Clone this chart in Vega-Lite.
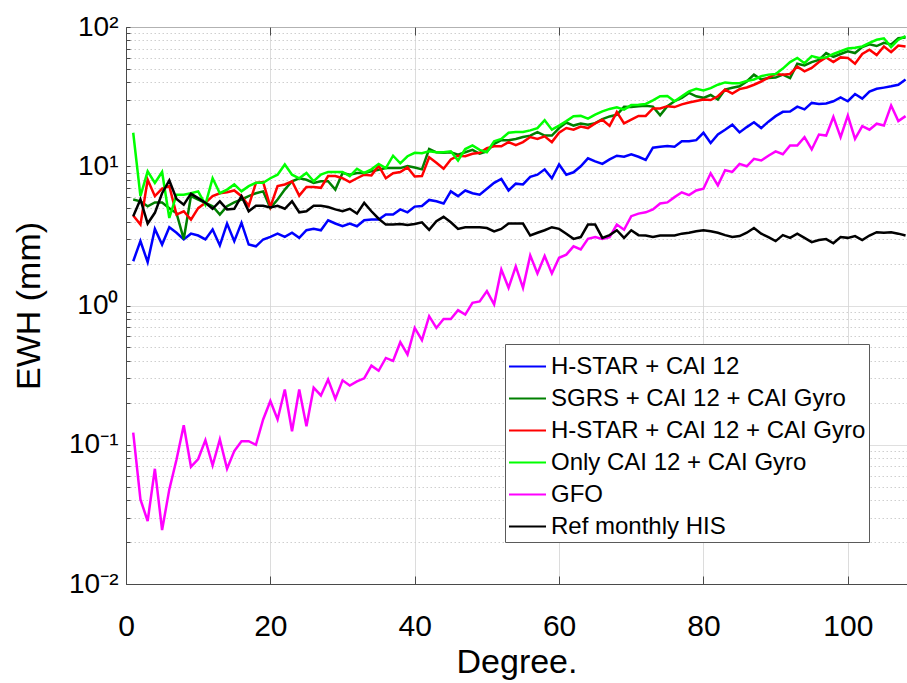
{
"$schema": "https://vega.github.io/schema/vega-lite/v6.json",
"autosize": {"type": "none"},
"padding": {"left": 126, "top": 27, "right": 0, "bottom": 99},
"width": 781,
"height": 557,
"background": "white",
"config": {"font": "Liberation Sans", "view": {"stroke": "#4a4a4a", "strokeWidth": 1}},
"datasets": {
"blue": [{"d":1,"v":2.08},{"d":2,"v":2.9},{"d":3,"v":2.05},{"d":4,"v":3.55},{"d":5,"v":2.74},{"d":6,"v":3.65},{"d":7,"v":3.33},{"d":8,"v":2.98},{"d":9,"v":3.28},{"d":10,"v":3.18},{"d":11,"v":2.98},{"d":12,"v":3.51},{"d":13,"v":2.7},{"d":14,"v":3.88},{"d":15,"v":2.9},{"d":16,"v":3.92},{"d":17,"v":2.74},{"d":18,"v":2.66},{"d":19,"v":2.98},{"d":20,"v":3.11},{"d":21,"v":3.28},{"d":22,"v":3.11},{"d":23,"v":3.33},{"d":24,"v":3.06},{"d":25,"v":3.47},{"d":26,"v":3.55},{"d":27,"v":3.47},{"d":28,"v":4.09},{"d":29,"v":3.88},{"d":30,"v":3.71},{"d":31,"v":3.88},{"d":32,"v":3.71},{"d":33,"v":4.09},{"d":34,"v":4.14},{"d":35,"v":4.14},{"d":36,"v":4.5},{"d":37,"v":4.5},{"d":38,"v":4.9},{"d":39,"v":4.67},{"d":40,"v":5.13},{"d":41,"v":5.18},{"d":42,"v":5.73},{"d":43,"v":5.6},{"d":44,"v":5.4},{"d":45,"v":6.6},{"d":46,"v":6.1},{"d":47,"v":6.7},{"d":48,"v":6.4},{"d":49,"v":6.25},{"d":50,"v":6.9},{"d":51,"v":7.6},{"d":52,"v":8.1},{"d":53,"v":6.7},{"d":54,"v":7.5},{"d":55,"v":7.4},{"d":56,"v":8.4},{"d":57,"v":8.7},{"d":58,"v":9.5},{"d":59,"v":8.2},{"d":60,"v":10.3},{"d":61,"v":8.7},{"d":62,"v":9.05},{"d":63,"v":10.0},{"d":64,"v":11.4},{"d":65,"v":10.85},{"d":66,"v":10.4},{"d":67,"v":11.2},{"d":68,"v":11.9},{"d":69,"v":11.7},{"d":70,"v":12.2},{"d":71,"v":11.7},{"d":72,"v":11.1},{"d":73,"v":13.6},{"d":74,"v":13.8},{"d":75,"v":14.0},{"d":76,"v":13.8},{"d":77,"v":15.1},{"d":78,"v":15.1},{"d":79,"v":15.4},{"d":80,"v":17.4},{"d":81,"v":14.7},{"d":82,"v":16.9},{"d":83,"v":18.3},{"d":84,"v":19.9},{"d":85,"v":17.5},{"d":86,"v":19.1},{"d":87,"v":20.7},{"d":88,"v":18.8},{"d":89,"v":20.9},{"d":90,"v":22.9},{"d":91,"v":24.6},{"d":92,"v":24.7},{"d":93,"v":26.8},{"d":94,"v":25.6},{"d":95,"v":28.5},{"d":96,"v":28.0},{"d":97,"v":28.2},{"d":98,"v":29.3},{"d":99,"v":31.2},{"d":100,"v":29.3},{"d":101,"v":33},{"d":102,"v":30.6},{"d":103,"v":34.4},{"d":104,"v":36},{"d":105,"v":36.7},{"d":106,"v":37.5},{"d":107,"v":38.5},{"d":108,"v":42}],
"sgrs": [{"d":1,"v":5.77},{"d":2,"v":5.6},{"d":3,"v":5.16},{"d":4,"v":5.5},{"d":5,"v":5.5},{"d":6,"v":5.0},{"d":7,"v":4.6},{"d":8,"v":3.0},{"d":9,"v":6.1},{"d":10,"v":5.77},{"d":11,"v":5.46},{"d":12,"v":5.16},{"d":13,"v":4.5},{"d":14,"v":5.16},{"d":15,"v":5.5},{"d":16,"v":5.77},{"d":17,"v":6.1},{"d":18,"v":6.4},{"d":19,"v":6.6},{"d":20,"v":5.0},{"d":21,"v":5.77},{"d":22,"v":6.8},{"d":23,"v":7.8},{"d":24,"v":8.2},{"d":25,"v":8.0},{"d":26,"v":7.6},{"d":27,"v":7.8},{"d":28,"v":7.8},{"d":29,"v":6.8},{"d":30,"v":8.95},{"d":31,"v":8.7},{"d":32,"v":8.95},{"d":33,"v":8.95},{"d":34,"v":9.2},{"d":35,"v":9.45},{"d":36,"v":9.7},{"d":37,"v":9.7},{"d":38,"v":9.7},{"d":39,"v":10.05},{"d":40,"v":9.8},{"d":41,"v":9.5},{"d":42,"v":13.3},{"d":43,"v":12.6},{"d":44,"v":12.5},{"d":45,"v":12.6},{"d":46,"v":12.1},{"d":47,"v":12.6},{"d":48,"v":13.1},{"d":49,"v":12.3},{"d":50,"v":12.8},{"d":51,"v":14.5},{"d":52,"v":15.4},{"d":53,"v":15.4},{"d":54,"v":15.7},{"d":55,"v":16.2},{"d":56,"v":16.6},{"d":57,"v":17.6},{"d":58,"v":16.6},{"d":59,"v":16.6},{"d":60,"v":18.8},{"d":61,"v":20.6},{"d":62,"v":19.6},{"d":63,"v":20.3},{"d":64,"v":19.9},{"d":65,"v":20.4},{"d":66,"v":21.8},{"d":67,"v":22.8},{"d":68,"v":23.4},{"d":69,"v":26.7},{"d":70,"v":26.6},{"d":71,"v":27},{"d":72,"v":27.2},{"d":73,"v":26.8},{"d":74,"v":23.2},{"d":75,"v":27},{"d":76,"v":29.3},{"d":77,"v":31},{"d":78,"v":33.6},{"d":79,"v":31.8},{"d":80,"v":31},{"d":81,"v":32.5},{"d":82,"v":30.1},{"d":83,"v":35.5},{"d":84,"v":36.6},{"d":85,"v":37.5},{"d":86,"v":40.6},{"d":87,"v":45.5},{"d":88,"v":42},{"d":89,"v":43},{"d":90,"v":43.3},{"d":91,"v":45.5},{"d":92,"v":43},{"d":93,"v":54.5},{"d":94,"v":53},{"d":95,"v":56},{"d":96,"v":58},{"d":97,"v":65},{"d":98,"v":61},{"d":99,"v":64},{"d":100,"v":67},{"d":101,"v":65},{"d":102,"v":71.8},{"d":103,"v":75},{"d":104,"v":73},{"d":105,"v":77},{"d":106,"v":75},{"d":107,"v":83},{"d":108,"v":84}],
"red": [{"d":1,"v":4.43},{"d":2,"v":3.81},{"d":3,"v":8.0},{"d":4,"v":6.1},{"d":5,"v":6.9},{"d":6,"v":7.2},{"d":7,"v":4.5},{"d":8,"v":4.75},{"d":9,"v":4.14},{"d":10,"v":5.0},{"d":11,"v":5.46},{"d":12,"v":6.1},{"d":13,"v":6.4},{"d":14,"v":6.5},{"d":15,"v":6.7},{"d":16,"v":6.1},{"d":17,"v":5.2},{"d":18,"v":7.6},{"d":19,"v":7.7},{"d":20,"v":5.1},{"d":21,"v":7.2},{"d":22,"v":7.4},{"d":23,"v":7.8},{"d":24,"v":6.15},{"d":25,"v":7.1},{"d":26,"v":7.1},{"d":27,"v":7.0},{"d":28,"v":8.5},{"d":29,"v":8.5},{"d":30,"v":8.2},{"d":31,"v":7.7},{"d":32,"v":8.2},{"d":33,"v":8.7},{"d":34,"v":8.6},{"d":35,"v":10.1},{"d":36,"v":8.2},{"d":37,"v":8.9},{"d":38,"v":9.1},{"d":39,"v":9.8},{"d":40,"v":8.45},{"d":41,"v":8.5},{"d":42,"v":11.6},{"d":43,"v":10.6},{"d":44,"v":9.6},{"d":45,"v":11.2},{"d":46,"v":11.9},{"d":47,"v":11.8},{"d":48,"v":12.3},{"d":49,"v":12.5},{"d":50,"v":13.5},{"d":51,"v":13.9},{"d":52,"v":13.9},{"d":53,"v":14.9},{"d":54,"v":14.2},{"d":55,"v":14.9},{"d":56,"v":16.2},{"d":57,"v":15.7},{"d":58,"v":16.4},{"d":59,"v":14.9},{"d":60,"v":17.4},{"d":61,"v":18.8},{"d":62,"v":18.3},{"d":63,"v":19.3},{"d":64,"v":18.8},{"d":65,"v":20.3},{"d":66,"v":21.6},{"d":67,"v":19.5},{"d":68,"v":24.5},{"d":69,"v":20.3},{"d":70,"v":21.6},{"d":71,"v":23.0},{"d":72,"v":23.0},{"d":73,"v":26},{"d":74,"v":26},{"d":75,"v":27},{"d":76,"v":26.6},{"d":77,"v":27.8},{"d":78,"v":28.7},{"d":79,"v":29.4},{"d":80,"v":30.1},{"d":81,"v":29.9},{"d":82,"v":31.8},{"d":83,"v":35.5},{"d":84,"v":33.3},{"d":85,"v":35.8},{"d":86,"v":36.8},{"d":87,"v":38.5},{"d":88,"v":40.6},{"d":89,"v":43.3},{"d":90,"v":46},{"d":91,"v":45.5},{"d":92,"v":46},{"d":93,"v":52},{"d":94,"v":48},{"d":95,"v":50.8},{"d":96,"v":56},{"d":97,"v":60.5},{"d":98,"v":56},{"d":99,"v":60.5},{"d":100,"v":60},{"d":101,"v":54.5},{"d":102,"v":64},{"d":103,"v":68.6},{"d":104,"v":63},{"d":105,"v":72.5},{"d":106,"v":66},{"d":107,"v":73.6},{"d":108,"v":72.5}],
"green": [{"d":1,"v":17.4},{"d":2,"v":6.1},{"d":3,"v":9.2},{"d":4,"v":7.6},{"d":5,"v":9.1},{"d":6,"v":4.25},{"d":7,"v":6.25},{"d":8,"v":6.25},{"d":9,"v":6.4},{"d":10,"v":6.6},{"d":11,"v":5.3},{"d":12,"v":8.2},{"d":13,"v":6.4},{"d":14,"v":6.8},{"d":15,"v":7.4},{"d":16,"v":6.6},{"d":17,"v":7.2},{"d":18,"v":7.6},{"d":19,"v":7.6},{"d":20,"v":8.2},{"d":21,"v":8.7},{"d":22,"v":10.3},{"d":23,"v":8.7},{"d":24,"v":8.2},{"d":25,"v":8.95},{"d":26,"v":7.8},{"d":27,"v":8.7},{"d":28,"v":9.1},{"d":29,"v":9.1},{"d":30,"v":9.1},{"d":31,"v":8.5},{"d":32,"v":9.6},{"d":33,"v":8.95},{"d":34,"v":9.5},{"d":35,"v":10.4},{"d":36,"v":9.7},{"d":37,"v":11.9},{"d":38,"v":10.5},{"d":39,"v":11.8},{"d":40,"v":12.5},{"d":41,"v":12.4},{"d":42,"v":12.8},{"d":43,"v":12.6},{"d":44,"v":12.6},{"d":45,"v":12.8},{"d":46,"v":11.0},{"d":47,"v":13.3},{"d":48,"v":14.1},{"d":49,"v":13.1},{"d":50,"v":12.6},{"d":51,"v":15.1},{"d":52,"v":15.7},{"d":53,"v":17.4},{"d":54,"v":17.6},{"d":55,"v":17.6},{"d":56,"v":18.1},{"d":57,"v":18.8},{"d":58,"v":21.4},{"d":59,"v":18.3},{"d":60,"v":19.6},{"d":61,"v":21.1},{"d":62,"v":22.9},{"d":63,"v":23.0},{"d":64,"v":22.0},{"d":65,"v":23.5},{"d":66,"v":24.8},{"d":67,"v":25.8},{"d":68,"v":26.5},{"d":69,"v":25.5},{"d":70,"v":27.5},{"d":71,"v":27.6},{"d":72,"v":28.0},{"d":73,"v":29.7},{"d":74,"v":31.8},{"d":75,"v":32},{"d":76,"v":29.3},{"d":77,"v":31.8},{"d":78,"v":34.5},{"d":79,"v":36},{"d":80,"v":35},{"d":81,"v":36.4},{"d":82,"v":38.5},{"d":83,"v":40},{"d":84,"v":39.5},{"d":85,"v":39.5},{"d":86,"v":41},{"d":87,"v":42},{"d":88,"v":44.3},{"d":89,"v":45.5},{"d":90,"v":46},{"d":91,"v":50.3},{"d":92,"v":56},{"d":93,"v":60},{"d":94,"v":55},{"d":95,"v":61.8},{"d":96,"v":60},{"d":97,"v":60.5},{"d":98,"v":64},{"d":99,"v":67},{"d":100,"v":70},{"d":101,"v":71},{"d":102,"v":72.5},{"d":103,"v":77},{"d":104,"v":81},{"d":105,"v":83},{"d":106,"v":71.8},{"d":107,"v":81},{"d":108,"v":86}],
"gfo": [{"d":1,"v":0.122},{"d":2,"v":0.0405},{"d":3,"v":0.0283},{"d":4,"v":0.0672},{"d":5,"v":0.0244},{"d":6,"v":0.0478},{"d":7,"v":0.0784},{"d":8,"v":0.138},{"d":9,"v":0.0695},{"d":10,"v":0.079},{"d":11,"v":0.108},{"d":12,"v":0.071},{"d":13,"v":0.109},{"d":14,"v":0.0672},{"d":15,"v":0.09},{"d":16,"v":0.106},{"d":17,"v":0.106},{"d":18,"v":0.1},{"d":19,"v":0.152},{"d":20,"v":0.206},{"d":21,"v":0.152},{"d":22,"v":0.249},{"d":23,"v":0.125},{"d":24,"v":0.249},{"d":25,"v":0.136},{"d":26,"v":0.257},{"d":27,"v":0.226},{"d":28,"v":0.294},{"d":29,"v":0.214},{"d":30,"v":0.29},{"d":31,"v":0.266},{"d":32,"v":0.285},{"d":33,"v":0.3},{"d":34,"v":0.37},{"d":35,"v":0.34},{"d":36,"v":0.42},{"d":37,"v":0.4},{"d":38,"v":0.545},{"d":39,"v":0.445},{"d":40,"v":0.69},{"d":41,"v":0.564},{"d":42,"v":0.838},{"d":43,"v":0.69},{"d":44,"v":0.8},{"d":45,"v":0.8},{"d":46,"v":0.925},{"d":47,"v":0.86},{"d":48,"v":1.045},{"d":49,"v":1.07},{"d":50,"v":1.27},{"d":51,"v":1.02},{"d":52,"v":1.81},{"d":53,"v":1.34},{"d":54,"v":1.91},{"d":55,"v":1.34},{"d":56,"v":2.29},{"d":57,"v":1.7},{"d":58,"v":2.27},{"d":59,"v":1.7},{"d":60,"v":2.2},{"d":61,"v":2.32},{"d":62,"v":2.66},{"d":63,"v":2.53},{"d":64,"v":3.01},{"d":65,"v":3.1},{"d":66,"v":3.01},{"d":67,"v":3.1},{"d":68,"v":3.81},{"d":69,"v":3.5},{"d":70,"v":4.38},{"d":71,"v":4.57},{"d":72,"v":4.67},{"d":73,"v":4.89},{"d":74,"v":5.4},{"d":75,"v":5.5},{"d":76,"v":6.0},{"d":77,"v":6.5},{"d":78,"v":6.2},{"d":79,"v":6.7},{"d":80,"v":6.9},{"d":81,"v":8.9},{"d":82,"v":7.3},{"d":83,"v":9.35},{"d":84,"v":9.1},{"d":85,"v":10.4},{"d":86,"v":10},{"d":87,"v":11.3},{"d":88,"v":11},{"d":89,"v":11.9},{"d":90,"v":12.8},{"d":91,"v":12.2},{"d":92,"v":14.1},{"d":93,"v":14.1},{"d":94,"v":16.2},{"d":95,"v":13.2},{"d":96,"v":16.9},{"d":97,"v":16.6},{"d":98,"v":22.6},{"d":99,"v":16.2},{"d":100,"v":23.1},{"d":101,"v":15.7},{"d":102,"v":19.4},{"d":103,"v":18.3},{"d":104,"v":20.2},{"d":105,"v":19.6},{"d":106,"v":27.3},{"d":107,"v":21.1},{"d":108,"v":22.9}],
"his": [{"d":1,"v":4.38},{"d":2,"v":5.77},{"d":3,"v":3.88},{"d":4,"v":4.63},{"d":5,"v":6.4},{"d":6,"v":7.9},{"d":7,"v":5.83},{"d":8,"v":5.3},{"d":9,"v":6.36},{"d":10,"v":5.9},{"d":11,"v":5.46},{"d":12,"v":4.95},{"d":13,"v":5.6},{"d":14,"v":4.9},{"d":15,"v":4.95},{"d":16,"v":6.1},{"d":17,"v":4.75},{"d":18,"v":5.2},{"d":19,"v":5.2},{"d":20,"v":5.05},{"d":21,"v":5.2},{"d":22,"v":4.95},{"d":23,"v":5.6},{"d":24,"v":4.67},{"d":25,"v":4.75},{"d":26,"v":5.2},{"d":27,"v":5.2},{"d":28,"v":5.1},{"d":29,"v":4.9},{"d":30,"v":4.75},{"d":31,"v":4.95},{"d":32,"v":4.57},{"d":33,"v":5.46},{"d":34,"v":4.75},{"d":35,"v":4.2},{"d":36,"v":3.81},{"d":37,"v":3.81},{"d":38,"v":3.85},{"d":39,"v":3.78},{"d":40,"v":3.85},{"d":41,"v":3.96},{"d":42,"v":3.49},{"d":43,"v":4.03},{"d":44,"v":4.33},{"d":45,"v":3.96},{"d":46,"v":3.55},{"d":47,"v":3.65},{"d":48,"v":3.65},{"d":49,"v":3.65},{"d":50,"v":3.6},{"d":51,"v":3.41},{"d":52,"v":3.55},{"d":53,"v":3.88},{"d":54,"v":3.88},{"d":55,"v":3.88},{"d":56,"v":3.18},{"d":57,"v":3.33},{"d":58,"v":3.47},{"d":59,"v":3.65},{"d":60,"v":3.55},{"d":61,"v":3.28},{"d":62,"v":3.01},{"d":63,"v":3.1},{"d":64,"v":3.81},{"d":65,"v":3.81},{"d":66,"v":3.06},{"d":67,"v":3.2},{"d":68,"v":3.47},{"d":69,"v":3.06},{"d":70,"v":3.47},{"d":71,"v":3.2},{"d":72,"v":3.18},{"d":73,"v":3.1},{"d":74,"v":3.18},{"d":75,"v":3.18},{"d":76,"v":3.18},{"d":77,"v":3.28},{"d":78,"v":3.33},{"d":79,"v":3.41},{"d":80,"v":3.47},{"d":81,"v":3.41},{"d":82,"v":3.33},{"d":83,"v":3.2},{"d":84,"v":3.1},{"d":85,"v":3.15},{"d":86,"v":3.33},{"d":87,"v":3.6},{"d":88,"v":3.28},{"d":89,"v":3.1},{"d":90,"v":2.9},{"d":91,"v":3.2},{"d":92,"v":3.06},{"d":93,"v":3.28},{"d":94,"v":3.06},{"d":95,"v":2.85},{"d":96,"v":2.95},{"d":97,"v":3.0},{"d":98,"v":2.8},{"d":99,"v":3.1},{"d":100,"v":3.06},{"d":101,"v":3.15},{"d":102,"v":2.95},{"d":103,"v":3.18},{"d":104,"v":3.36},{"d":105,"v":3.33},{"d":106,"v":3.36},{"d":107,"v":3.28},{"d":108,"v":3.18}]
},
"layer": [
{
"encoding": {
"x": {"field": "d", "type": "quantitative", "scale": {"domain": [0, 108.2], "nice": false, "zero": false},
 "axis": {"orient": "bottom", "values": [0, 20, 40, 60, 80, 100], "title": "Degree.", "titleFontSize": 34, "titleFontWeight": "normal", "titleColor": "#000", "titlePadding": 4,
  "labelFontSize": 30, "labelColor": "#000", "labelPadding": 35, "labelFlush": false, "tickSize": -8, "tickColor": "#4a4a4a", "domainColor": "#4a4a4a", "grid": true, "gridColor": "#dcdcdc", "gridWidth": 1}},
"y": {"field": "v", "type": "quantitative", "scale": {"type": "log", "domain": [0.01, 100], "nice": false},
 "axis": {"orient": "left", "values": [0.01,0.02,0.03,0.04,0.05,0.06,0.07,0.08,0.09,0.1,0.2,0.3,0.4,0.5,0.6,0.7,0.8,0.9,1,2,3,4,5,6,7,8,9,10,20,30,40,50,60,70,80,90,100],
  "labelExpr": "abs(datum.value-100)<1e-6 ? '10²' : abs(datum.value-10)<1e-6 ? '10¹' : abs(datum.value-1)<1e-6 ? '10⁰' : abs(datum.value-0.1)<1e-9 ? '10⁻¹' : abs(datum.value-0.01)<1e-9 ? '10⁻²' : ''",
  "labelOverlap": false, "labelFlush": false, "labelFontSize": 28, "labelColor": "#000", "labelPadding": 12,
  "tickSize": -4, "tickColor": "#4a4a4a", "domainColor": "#4a4a4a",
  "grid": true,
  "gridColor": {"condition": {"test": "abs(log(datum.value)/LN10 - round(log(datum.value)/LN10)) < 0.001", "value": "#d4d4d4"}, "value": "#cfcfcf"},
  "gridDash": {"condition": {"test": "abs(log(datum.value)/LN10 - round(log(datum.value)/LN10)) < 0.001", "value": [1, 0]}, "value": [1.5, 2.5]},
  "title": "EWH (mm)", "titleFontSize": 34, "titleFontWeight": "normal", "titleColor": "#000", "titlePadding": 22}}
},
"layer": [
{"data": {"name": "blue"}, "mark": {"type": "line", "strokeWidth": 2.5, "clip": true},
 "encoding": {"color": {"datum": "H-STAR + CAI 12", "type": "nominal",
  "scale": {"domain": ["H-STAR + CAI 12", "SGRS + CAI 12 + CAI Gyro", "H-STAR + CAI 12 + CAI Gyro", "Only CAI 12 + CAI Gyro", "GFO", "Ref monthly HIS"], "range": ["#0000ff", "#008000", "#ff0000", "#00ff00", "#ff00ff", "#000000"]},
  "legend": {"orient": "none", "legendX": 379, "legendY": 317, "title": null, "direction": "vertical", "fillColor": "white", "strokeColor": "#5a5a5a", "padding": 3,
   "labelFontSize": 24, "labelColor": "#000", "labelLimit": 0, "labelOffset": 4, "symbolType": "stroke", "symbolSize": 1369, "symbolStrokeWidth": 2, "rowPadding": -2, "symbolOffset": 0}}}},
{"data": {"name": "sgrs"}, "mark": {"type": "line", "strokeWidth": 2.5, "clip": true}, "encoding": {"color": {"datum": "SGRS + CAI 12 + CAI Gyro", "type": "nominal"}}},
{"data": {"name": "red"}, "mark": {"type": "line", "strokeWidth": 2.5, "clip": true}, "encoding": {"color": {"datum": "H-STAR + CAI 12 + CAI Gyro", "type": "nominal"}}},
{"data": {"name": "green"}, "mark": {"type": "line", "strokeWidth": 2.5, "clip": true}, "encoding": {"color": {"datum": "Only CAI 12 + CAI Gyro", "type": "nominal"}}},
{"data": {"name": "gfo"}, "mark": {"type": "line", "strokeWidth": 2.5, "clip": true}, "encoding": {"color": {"datum": "GFO", "type": "nominal"}}},
{"data": {"name": "his"}, "mark": {"type": "line", "strokeWidth": 2.5, "clip": true}, "encoding": {"color": {"datum": "Ref monthly HIS", "type": "nominal"}}}
]
},
{
"data": {"name": "blue"},
"mark": {"type": "line", "opacity": 0},
"encoding": {
"x": {"field": "d", "type": "quantitative", "axis": {"orient": "top", "values": [0, 20, 40, 60, 80, 100], "labels": false, "title": null, "domain": false, "grid": false, "tickSize": -8, "tickColor": "#4a4a4a"}},
"y": {"field": "v", "type": "quantitative", "axis": null}
}
}
],
"resolve": {"axis": {"x": "independent", "y": "independent"}}
}
